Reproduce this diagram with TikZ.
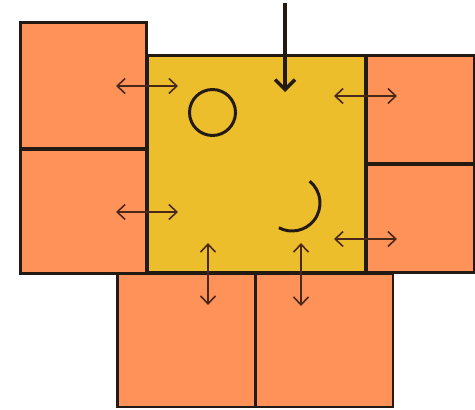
\documentclass[tikz,border=0pt]{standalone}
\usetikzlibrary{arrows.meta}
\definecolor{cellorange}{HTML}{FE9259}
\definecolor{coreyellow}{HTML}{ECBE2C}
\definecolor{edgedark}{HTML}{231A14}
\definecolor{linkbrown}{HTML}{4A2818}
\begin{document}
\begin{tikzpicture}[x=0.02cm, y=0.02cm,
  cell/.style={draw=edgedark, line width=1.7pt, fill=cellorange, inner sep=0pt, outer sep=0pt},
  core/.style={draw=edgedark, line width=1.7pt, fill=coreyellow, inner sep=0pt, outer sep=0pt},
  link/.style={draw=linkbrown, line width=0.9pt, {Straight Barb[length=0.16cm, width=0.3cm]}-{Straight Barb[length=0.16cm, width=0.3cm]}},
  feed/.style={draw=edgedark, line width=2pt, -{Straight Barb[length=0.2cm, width=0.4cm, line width=2pt]}}]
\useasboundingbox (0,0) rectangle (475,409);
\node[cell, minimum width=2.54cm, minimum height=2.54cm] (left1) at (83.5,323.5) {};
\node[cell, minimum width=2.54cm, minimum height=2.5cm] (left2) at (83.5,197.5) {};
\node[cell, minimum width=2.16cm, minimum height=2.18cm] (right1) at (420,299.5) {};
\node[cell, minimum width=2.16cm, minimum height=2.18cm] (right2) at (420,190.5) {};
\node[cell, minimum width=2.76cm, minimum height=2.68cm] (bottom1) at (186,69) {};
\node[cell, minimum width=2.76cm, minimum height=2.68cm] (bottom2) at (324,69) {};
\node[core, minimum width=4.38cm, minimum height=4.36cm] (centre) at (256.5,245) {};
\node[circle, draw=edgedark, line width=1.7pt, minimum size=0.92cm, inner sep=0pt] (ring) at (212.5,296.5) {};
\draw[edgedark, line width=1.7pt] (292,206) ++(51:28) arc[start angle=51, end angle=-118, radius=28];
% connectors
\coordinate (inlet) at (285,406);
\coordinate (inletend) at (285,317);
\coordinate (l1a) at (116,323); \coordinate (l1b) at (178,323);
\coordinate (l2a) at (116,197); \coordinate (l2b) at (178,197);
\coordinate (r1a) at (334,313); \coordinate (r1b) at (397,313);
\coordinate (r2a) at (334,170); \coordinate (r2b) at (397,170);
\coordinate (b1a) at (208,166); \coordinate (b1b) at (208,104);
\coordinate (b2a) at (301,166); \coordinate (b2b) at (301,103);
\draw[feed] (inlet) -- (inletend);
\draw[link] (l1a) -- (l1b);
\draw[link] (l2a) -- (l2b);
\draw[link] (r1a) -- (r1b);
\draw[link] (r2a) -- (r2b);
\draw[link] (b1a) -- (b1b);
\draw[link] (b2a) -- (b2b);
\end{tikzpicture}
\end{document}
